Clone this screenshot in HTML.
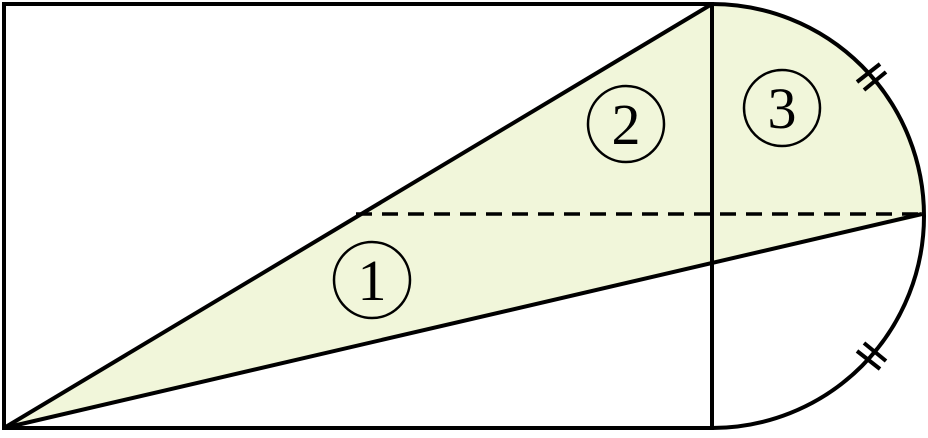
<!DOCTYPE html>
<html><head><meta charset="utf-8"><style>html,body{margin:0;padding:0;background:#fff}</style></head>
<body>
<svg width="928" height="433" viewBox="0 0 928 433" xmlns="http://www.w3.org/2000/svg">
<path d="M4,428 L712,4 A212,212 0 0 1 924,216 Z" fill="#f1f6da"/>
<g fill="none" stroke="#000" stroke-width="4">
<rect x="4" y="4" width="708" height="424"/>
<path d="M712,4 A212,212 0 0 1 712,428"/>
<line x1="4" y1="428" x2="712" y2="4"/>
<line x1="4" y1="428" x2="922" y2="214"/>
<line x1="356" y1="214" x2="922" y2="214" stroke-dasharray="16,10" stroke-width="3.5"/>
<line x1="857" y1="82" x2="880" y2="64" stroke-width="4"/>
<line x1="864" y1="90" x2="886" y2="72" stroke-width="4"/>
<line x1="857" y1="351" x2="880" y2="369" stroke-width="4"/>
<line x1="864" y1="343" x2="886" y2="361" stroke-width="4"/>
<circle cx="372" cy="280" r="38" stroke-width="2.5"/>
<circle cx="626" cy="124" r="38" stroke-width="2.5"/>
<circle cx="782" cy="108" r="38" stroke-width="2.5"/>
</g>
<g font-family="Liberation Serif, serif" font-size="58" text-anchor="middle" fill="#000">
<text x="372" y="300">1</text>
<text x="626" y="144">2</text>
<text x="782" y="128">3</text>
</g>
</svg>
</body></html>
